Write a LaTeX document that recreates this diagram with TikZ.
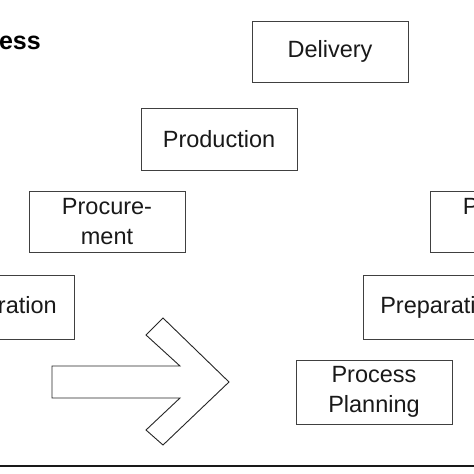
\documentclass[tikz,border=0pt]{standalone}
\usepackage{fontspec}
\setmainfont{Liberation Sans}
\begin{document}
\begin{tikzpicture}[x=1pt,y=-1pt,
  box/.style={draw=black!75, line width=0.9pt, minimum width=156pt, inner sep=0pt, align=center,
    font=\fontsize{23.5}{30}\selectfont, text=black!90},
  bigarrow/.style={draw=black!85, line width=0.9pt, line join=miter}]
\clip (0,0) rectangle (474,474);
\fill[white] (0,0) rectangle (474,474);
% title fragment
\node[anchor=base east, inner sep=0pt, font=\fontsize{25}{30}\selectfont\bfseries] (title) at (41,49) {ess};
% left staircase
\node[box, minimum height=61pt] (del) at (330,51.5) {Delivery};
\node[box, minimum height=62pt] (prod) at (219,139) {Production};
\node[box, minimum height=61pt] (proc) at (107,221.5) {Procure-\\ment};
\node[box, minimum height=64pt] (prep) at (-4,307) {Preparation};
% right staircase
\node[box, minimum height=64pt] (pp) at (374,392) {Process\\Planning};
\node[box, minimum height=64pt] (prep2) at (441,307) {Preparation};
\node[box, minimum height=61pt] (proc2) at (508,221.5) {Procure-\\ment};
% big arrow
\draw[bigarrow] (52,366) -- (180,366) -- (146,335) -- (163,318) -- (229,382)
  -- (163,445) -- (146,430) -- (180,398) -- (52,398) -- cycle;
% bottom rule
\draw[line width=2pt, black!90] (0,466) -- (474,466);
\end{tikzpicture}
\end{document}
